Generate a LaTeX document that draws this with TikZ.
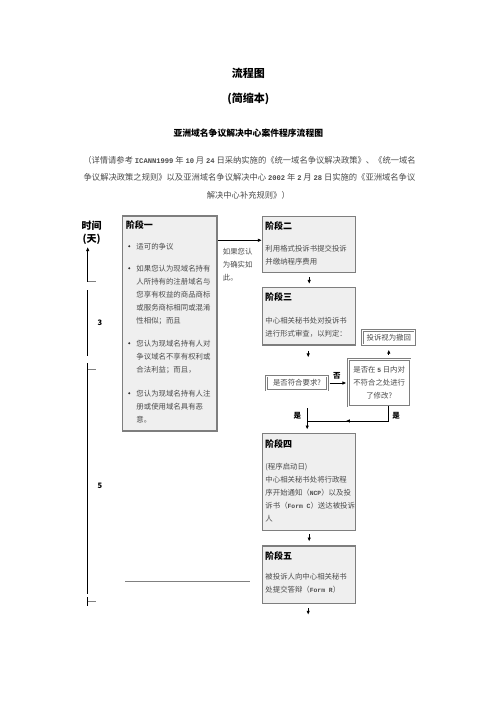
\documentclass[tikz,border=0pt]{standalone}
\usepackage{fontspec}
\setmainfont{Noto Sans CJK SC}
\newfontfamily\monofont{Liberation Mono}[Scale=0.86]
\usetikzlibrary{arrows.meta}
\definecolor{boxfill}{HTML}{EFEFEF}
\definecolor{boxline}{HTML}{7E7E7E}
\definecolor{bodytext}{HTML}{4A4A4A}
\newcommand{\lat}[1]{{\monofont\bfseries #1}}
\tikzset{
  stage/.style={draw=boxline, line width=1.5pt, fill=boxfill, inner sep=0pt, minimum width=93pt},
  query/.style={draw=boxline, line width=0.8pt, double=white, double distance=1pt, fill=white,
    inner sep=0pt, align=center, font=\fontsize{7.4}{12.7}\selectfont, text=bodytext},
  heading/.style={anchor=west, inner sep=0pt, font=\bfseries\fontsize{9}{10}\selectfont},
  body/.style={anchor=north west, inner sep=0pt, align=left, font=\fontsize{7.4}{13}\selectfont, text=bodytext},
  note/.style={inner sep=0pt, font=\fontsize{8.3}{10}\selectfont, text=bodytext},
  flow/.style={-{Latex[length=4pt,width=3.5pt]}, line width=0.8pt},
  yesno/.style={inner sep=0pt, font=\bfseries\fontsize{7.5}{8}\selectfont},
  tick/.style={draw=gray, line width=1pt},
}
\begin{document}
\begin{tikzpicture}[x=1pt,y=-1pt]
\useasboundingbox (0,0) rectangle (496,702);

\node[font=\bfseries\fontsize{11}{12}\selectfont] (title) at (248.3,73.3) {流程图};
\node[font=\bfseries\fontsize{11}{12}\selectfont] (subtitle) at (248.3,99.3) {(简缩本)};
\node[font=\bfseries\fontsize{8.8}{10}\selectfont] (caption) at (248.3,132.7) {亚洲域名争议解决中心案件程序流程图};
\node[note] (ref1) at (249.5,160) {（详情请参考 \lat{ICANN1999} 年 \lat{10} 月 \lat{24} 日采纳实施的《统一域名争议解决政策》、《统一域名};
\node[note] (ref2) at (249.5,177.3) {争议解决政策之规则》以及亚洲域名争议解决中心 \lat{2002} 年 \lat{2} 月 \lat{28} 日实施的《亚洲域名争议};
\node[note] (ref3) at (248.3,195) {解决中心补充规则》）};

% time scale
\node[font=\bfseries\fontsize{10}{11}\selectfont] (days1) at (91.5,225.7) {时间};
\node[font=\bfseries\fontsize{10}{11}\selectfont] (days2) at (91.5,239) {(天)};
\draw[flow] (87.7,281.7) -- (87.7,247);
\draw[tick] (87.7,281.7) -- (96,281.7);
\draw[line width=0.8pt] (87.7,290) -- (87.7,356);
\draw[line width=0.8pt] (87.7,363) -- (87.7,594);
\draw[tick] (87.7,369) -- (96,369);
\draw[line width=0.8pt] (87.7,597) -- (87.7,606);
\draw[tick] (87.7,601.5) -- (96,601.5);
\node[yesno] (three) at (100,323) {3};
\node[yesno] (five) at (100,486) {5};
\draw[gray, line width=1.3pt] (125,581.7) -- (250,581.7);

% stages
\node[stage, minimum width=94.5pt, minimum height=215pt] (stage1) at (169.75,323.5) {};
\node[heading] at ([xshift=4pt,yshift=-10pt]stage1.north west) {阶段一};
\foreach \dy in {31,53,128,178}
  \fill[black!80] ([xshift=7.5pt,yshift=-\dy pt]stage1.north west) circle (1.2pt);
\node[body] at ([xshift=14.5pt,yshift=-27.5pt]stage1.north west) {适可的争议};
\node[body] at ([xshift=14.5pt,yshift=-49.5pt]stage1.north west) {如果您认为现域名持有\\人所持有的注册域名与\\您享有权益的商品商标\\或服务商标相同或混淆\\性相似；而且};
\node[body] at ([xshift=14.5pt,yshift=-124.5pt]stage1.north west) {您认为现域名持有人对\\争议域名不享有权利或\\合法利益；而且，};
\node[body] at ([xshift=14.5pt,yshift=-174.5pt]stage1.north west) {您认为现域名持有人注\\册或使用域名具有恶\\意。};

\node[stage, minimum height=56pt] (stage2) at (309.2,244.7) {};
\node[heading] at ([xshift=3pt,yshift=-10pt]stage2.north west) {阶段二};
\node[body] at ([xshift=3.3pt,yshift=-28.8pt]stage2.north west) {利用格式投诉书提交投诉\\并缴纳程序费用};

\node[stage, minimum height=57.3pt] (stage3) at (309.2,316.35) {};
\node[heading] at ([xshift=3pt,yshift=-10.5pt]stage3.north west) {阶段三};
\node[body] at ([xshift=3.3pt,yshift=-30.5pt]stage3.north west) {中心相关秘书处对投诉书\\进行形式审查，以判定：};

\node[query, minimum width=60.6pt, minimum height=14pt] (ok) at (297,383) {是否符合要求?};
\node[query, minimum width=61.7pt, minimum height=46.7pt] (recheck) at (379.2,382.7) {是否在 \lat{5} 日内对\\不符合之处进行\\了修改?};
\node[query, minimum width=52.3pt, minimum height=14.3pt] (withdrawn) at (388.8,337.8) {投诉视为撤回};

\node[stage, minimum height=97.4pt] (stage4) at (309.2,482) {};
\node[heading] at ([xshift=3pt,yshift=-11pt]stage4.north west) {阶段四};
\node[body] at ([xshift=3.3pt,yshift=-30.5pt]stage4.north west) {(程序启动日)\\中心相关秘书处将行政程\\序开始通知（\lat{NCP}）以及投\\诉书（\lat{Form C}）送达被投诉\\人};

\node[stage, minimum height=57.3pt] (stage5) at (309.2,574.65) {};
\node[heading] at ([xshift=3pt,yshift=-10.5pt]stage5.north west) {阶段五};
\node[body] at ([xshift=3.3pt,yshift=-27.8pt]stage5.north west) {被投诉人向中心相关秘书\\处提交答辩（\lat{Form R}）};

% connectors
\coordinate (fwd) at ([yshift=-24.3pt]stage2.north west);
\draw[flow] (stage1.east |- fwd) -- (fwd);
\node[body] (ifso) at (222.7,248.2) {如果您认\\为确实如\\此。};
\draw[flow, shorten <=4pt, shorten >=3pt] (stage2) -- (stage3);
\coordinate (s3out) at ([xshift=-1pt,yshift=-11.7pt]stage3.south);
\draw[flow, shorten <=5pt] (stage3.south -| s3out) -- (s3out);
\draw[flow, shorten <=2pt, shorten >=1.5pt] (ok.east) -- (recheck.west |- ok.east)
  node[yesno, midway, above=3.5pt, xshift=-1pt] {否};
\draw[flow, shorten <=4.3pt, shorten >=4.3pt] (recheck.north -| withdrawn.south) -- (withdrawn.south);
\coordinate (okout) at ([xshift=-2pt]stage4.north |- ok.south);
\coordinate (s4in) at ([xshift=-2pt]stage4.north);
\draw[flow, line width=0.9pt, shorten <=18pt, shorten >=3pt] (okout) -- (s4in);
\node[yesno] at (297.3,415.7) {是};
\coordinate (drop) at (recheck.south -| withdrawn.south);
\coordinate (merge) at ([xshift=-2pt,yshift=11.6pt]stage4.north);
\coordinate (turn) at ([xshift=-43pt]drop |- merge);
\draw[line width=0.9pt] (drop) |- (merge);
\draw[line width=1.1pt] (drop) -- (drop |- merge);
\draw[flow] (drop |- merge) -- (turn);
\node[yesno] at (396,415.7) {是};
\draw[flow, shorten <=2.6pt, shorten >=3.7pt] (stage4) -- (stage5);
\coordinate (s5out) at ([xshift=-1pt,yshift=-10.7pt]stage5.south);
\draw[flow, shorten <=4.4pt] (stage5.south -| s5out) -- (s5out);
\end{tikzpicture}
\end{document}
